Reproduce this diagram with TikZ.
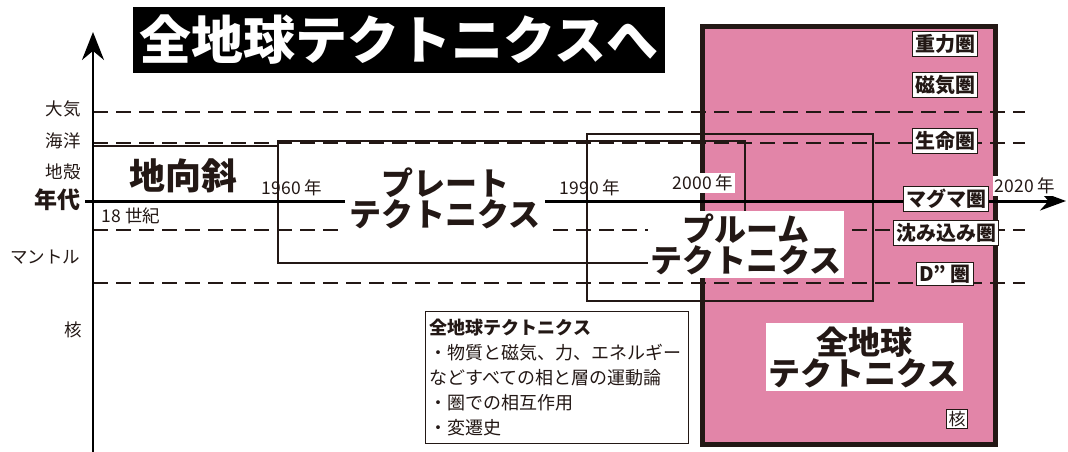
\documentclass[tikz,border=0pt]{standalone}
\usepackage{fontspec}
\setmainfont{Noto Sans CJK JP}
\usetikzlibrary{arrows.meta}
\definecolor{dk}{HTML}{231815}
\definecolor{pinkc}{RGB}{226,133,168}
\begin{document}
\begin{tikzpicture}[x=1pt,y=-1pt,
  dashln/.style={draw=dk, line width=1.8pt, dash pattern=on 15pt off 8pt},
  boxln/.style={draw=dk, line width=2.5pt},
  axisln/.style={draw=black, line width=3pt},
  ylab/.style={font=\fontsize{17.5}{17.5}\selectfont, text=dk, inner sep=0pt},
  yearlab/.style={font=\fontsize{17.5}{17.5}\selectfont, text=dk, inner sep=1pt},
  biglab/.style={font=\fontsize{32}{31}\selectfont\bfseries, text=dk, align=center, fill=white, inner sep=3pt},
  kenlab/.style={draw=dk, line width=1pt, fill=white, font=\fontsize{20}{20}\selectfont\bfseries, text=dk, inner sep=2.5pt}
]
\useasboundingbox (0,0) rectangle (1068,452);
% pink box fill
\fill[pinkc] (702,27) rectangle (995,444);
% dashed layer lines
\coordinate (d1a) at (93,112); \coordinate (d1b) at (1025,112);
\coordinate (d2a) at (93,143); \coordinate (d2b) at (1025,143);
\coordinate (d3a) at (93,230); \coordinate (d3b) at (1025,230);
\coordinate (d4a) at (93,283); \coordinate (d4b) at (1025,283);
\draw[dashln] (d1a) -- (d1b);
\draw[dashln] (d2a) -- (d2b);
\draw[dashln] (d3a) -- (d3b);
\draw[dashln] (d4a) -- (d4b);
% boxes
\coordinate (geoA) at (93,146); \coordinate (geoB) at (278,146);
\draw[boxln] (geoA) -- (geoB);
\coordinate (plA) at (278,141); \coordinate (plB) at (745,263);
\draw[boxln] (plA) rectangle (plB);
\coordinate (puA) at (587,134); \coordinate (puB) at (873,301);
\draw[boxln, line width=2.2pt] (puA) rectangle (puB);
% pink box border
\coordinate (pkA) at (702,27); \coordinate (pkB) at (995,444);
\draw[draw=dk, line width=5pt] (pkA) rectangle (pkB);
% axes
\coordinate (xa) at (85,201); \coordinate (xb) at (1066,201);
\coordinate (ya) at (93,452); \coordinate (yb) at (93,32);
\draw[axisln, -{Stealth[length=26pt,width=19pt]}] (xa) -- (xb);
\draw[axisln, line width=2.5pt, -{Stealth[length=28pt,width=22pt]}] (ya) -- (yb);
% title
\node[fill=black, text=white, font=\fontsize{52}{52}\selectfont\bfseries, minimum width=532pt, minimum height=66pt, inner sep=0pt] (title) at (399,40) {全地球テクトニクスへ};
% y-axis labels
\node[ylab] (taiki) at (63,109) {大気};
\node[ylab] (kaiyo) at (63,141) {海洋};
\node[ylab] (chikaku) at (63,172) {地殻};
\node[ylab, font=\fontsize{23}{23}\selectfont\bfseries] (nendai) at (57,200) {年代};
\node[ylab] (mantle) at (45,257) {マントル};
\node[ylab] (kaku) at (73,330) {核};
% era labels
\node[font=\fontsize{36}{36}\selectfont\bfseries, text=dk, inner sep=0pt] (chikosha) at (183,176) {地向斜};
\node[yearlab] (y1960) at (292,188) {1960 年};
\node[yearlab] (y18) at (131,216) {18 世紀};
\node[biglab, inner sep=4pt] (plate) at (445,198) {プレート\\テクトニクス};
\node[yearlab] (y1990) at (590,188) {1990 年};
\node[yearlab, fill=white, inner sep=2pt] (y2000) at (703,183) {2000 年};
\node[biglab, minimum width=196pt, minimum height=67pt, inner sep=0pt] (plume) at (746,244) {プルーム\\テクトニクス};
\node[biglab, minimum width=197pt, minimum height=68pt, inner sep=0pt] (whole) at (864,357) {全地球\\テクトニクス};
\node[draw=dk, line width=1pt, fill=white, font=\fontsize{17}{17}\selectfont, text=dk, inner sep=2pt] (kaku2) at (957,419) {核};
\node[yearlab, fill=white, inner sep=2pt] (y2020) at (1025,186) {2020 年};
% sphere labels
\node[kenlab] (k1) at (945,44) {重力圏};
\node[kenlab] (k2) at (945,85) {磁気圏};
\node[kenlab] (k3) at (945,141) {生命圏};
\node[kenlab] (k4) at (946,199) {マグマ圏};
\node[kenlab] (k5) at (946,233) {沈み込み圏};
\node[kenlab] (k6) at (945,274) {D” 圏};
% info box
\node[draw=dk, line width=1.2pt, fill=white, anchor=north west, minimum width=263pt, minimum height=132pt, text width=255pt, align=left, inner sep=4pt, font=\fontsize{18}{25}\selectfont, text=dk] (info) at (425,311) {{\bfseries 全地球テクトニクス}\\・物質と磁気、力、エネルギー\\などすべての相と層の運動論\\・圏での相互作用\\・変遷史};
\end{tikzpicture}
\end{document}
